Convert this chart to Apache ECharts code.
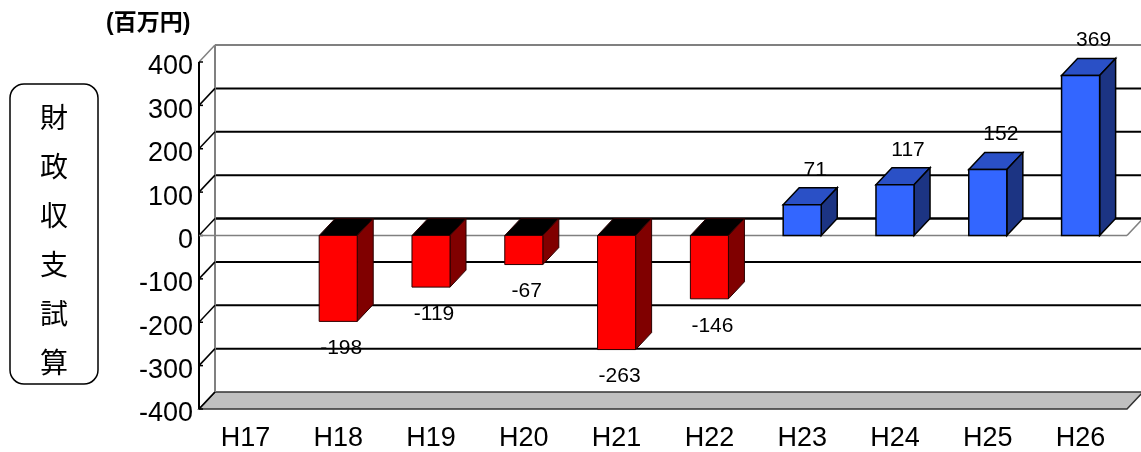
<!DOCTYPE html>
<html>
<head>
<meta charset="utf-8">
<title>財政収支試算</title>
<script src="https://cdn.jsdelivr.net/npm/echarts@6/dist/echarts.min.js"></script>
<style>
  html, body { margin: 0; padding: 0; background: #fff; }
  #main { width: 1141px; height: 452px; }
</style>
</head>
<body>
<div id="main"></div>
<script>
// 年度と収支（百万円）
const years = ['H17', 'H18', 'H19', 'H20', 'H21', 'H22', 'H23', 'H24', 'H25', 'H26'];
const balance = [null, -198, -119, -67, -263, -146, 71, 117, 152, 369];
const axisMin = -400;
const axisMax = 400;
const axisStep = 100;

const unitText = '(百万円)';
const sideTitle = ['財', '政', '収', '支', '試', '算'];

// 奥行き（3D風）
const DX = 16;
const DY = -17;
const FONT = '"Liberation Sans", Arial, "Noto Sans CJK JP", sans-serif';

const ticks = [];
for (let t = axisMin; t <= axisMax; t += axisStep) ticks.push(t);

const barColors = {
  pos: { front: '#3366ff', top: '#2a50c6', side: '#1c3483', stroke: '#000', lw: 1.5 },
  neg: { front: '#ff0000', top: '#000000', side: '#800000', stroke: '#2a0000', lw: 1 }
};

function line(x1, y1, x2, y2, color, width) {
  return {
    type: 'line',
    shape: { x1: x1, y1: y1, x2: x2, y2: y2 },
    style: { stroke: color, lineWidth: width }
  };
}

function renderWalls(params, api) {
  const cs = params.coordSys;
  const L = cs.x;
  const R = cs.x + cs.width;
  const y = v => api.coord([0, v])[1];
  const children = [];

  // 床
  const yb = y(axisMin);
  children.push({
    type: 'polygon',
    shape: { points: [[L, yb], [R, yb], [R + DX, yb + DY], [L + DX, yb + DY]] },
    style: { fill: '#c0c0c0', stroke: '#333', lineWidth: 1.5 }
  });

  // 奥の壁の目盛線
  ticks.forEach(t => {
    if (t === axisMin || t === axisMax) return;
    children.push(line(L + DX, y(t) + DY, R + DX + 10, y(t) + DY, '#000', t === 0 ? 2.5 : 2));
  });
  children.push(line(L + DX, y(axisMax) + DY, R + DX + 10, y(axisMax) + DY, '#808080', 2));
  children.push(line(L + DX, y(axisMax) + DY, L + DX, yb + DY, '#808080', 2));

  // 側面の斜線
  ticks.forEach(t => {
    const c = t === axisMax ? '#808080' : '#000';
    children.push(line(L, y(t), L + DX, y(t) + DY, c, 1.5));
    children.push(line(L, y(t), L + 4, y(t), '#000', 1.5));
  });

  // 前面の軸
  children.push(line(L, y(axisMax), L, yb, '#000', 2));

  // ゼロ面の手前の縁
  children.push(line(L, y(0), R, y(0), '#808080', 1.5));
  children.push(line(R, y(0), R + DX, y(0) + DY, '#808080', 1.5));

  return { type: 'group', children: children };
}

function renderBar(params, api) {
  const i = api.value(0);
  const v = api.value(1);
  const base = api.coord([i, 0]);
  const end = api.coord([i, v]);
  const bw = api.size([1, 0])[0] * 0.41;
  const x1 = base[0] - bw / 2;
  const x2 = base[0] + bw / 2;
  const y0 = base[1];
  const yv = end[1];
  const c = v >= 0 ? barColors.pos : barColors.neg;
  const yt = v >= 0 ? yv : y0;

  const children = [
    {
      type: 'polygon',
      shape: { points: [[x1, yt], [x2, yt], [x2 + DX, yt + DY], [x1 + DX, yt + DY]] },
      style: { fill: c.top, stroke: c.stroke, lineWidth: c.lw }
    },
    {
      type: 'polygon',
      shape: { points: [[x2, y0], [x2 + DX, y0 + DY], [x2 + DX, yv + DY], [x2, yv]] },
      style: { fill: c.side, stroke: c.stroke, lineWidth: c.lw }
    },
    {
      type: 'polygon',
      shape: { points: [[x1, y0], [x2, y0], [x2, yv], [x1, yv]] },
      style: { fill: c.front, stroke: c.stroke, lineWidth: c.lw }
    },
    {
      type: 'text',
      x: v >= 0 ? base[0] + 13 : base[0] + 3,
      y: v >= 0 ? yv + DY - 18 : yv + 27,
      style: {
        text: String(v),
        fill: '#000',
        font: '21px ' + FONT,
        align: 'center',
        verticalAlign: 'middle'
      }
    }
  ];
  return { type: 'group', children: children };
}

const barData = [];
balance.forEach((v, i) => {
  if (v !== null) barData.push([i, v]);
});

const chart = echarts.init(document.getElementById('main'), null, { renderer: 'canvas' });

const option = {
  animation: false,
  backgroundColor: '#fff',
  grid: { left: 199, top: 62, width: 928, height: 352, containLabel: false },
  xAxis: {
    type: 'category',
    data: years,
    boundaryGap: true,
    axisLine: { show: false },
    axisTick: { show: false },
    splitLine: { show: false },
    axisLabel: { color: '#000', fontSize: 27, fontFamily: FONT, margin: 16, interval: 0 }
  },
  yAxis: {
    type: 'value',
    min: axisMin,
    max: axisMax,
    interval: axisStep,
    axisLine: { show: false },
    axisTick: { show: false },
    splitLine: { show: false },
    axisLabel: {
      color: '#000', fontSize: 27, fontFamily: FONT, margin: 6,
      verticalAlign: 'top', lineHeight: 10
    }
  },
  graphic: [
    {
      type: 'text',
      left: 106,
      top: 12,
      style: { text: unitText, fill: '#000', font: 'bold 23px ' + FONT }
    },
    {
      type: 'rect',
      shape: { x: 10, y: 84, width: 88, height: 300, r: 14 },
      style: { fill: '#fff', stroke: '#000', lineWidth: 1.5 }
    },
    {
      type: 'text',
      x: 54,
      y: 240,
      style: {
        text: sideTitle.join('\n'),
        fill: '#000',
        font: '28px "Noto Sans CJK JP", sans-serif',
        lineHeight: 49,
        align: 'center',
        verticalAlign: 'middle'
      }
    }
  ],
  series: [
    {
      type: 'custom',
      name: 'walls',
      data: [[0, 0]],
      clip: false,
      silent: true,
      z: 1,
      renderItem: renderWalls
    },
    {
      type: 'custom',
      name: '収支',
      data: barData,
      clip: false,
      z: 2,
      encode: { x: 0, y: 1 },
      renderItem: renderBar
    }
  ]
};

chart.setOption(option);
</script>
</body>
</html>
